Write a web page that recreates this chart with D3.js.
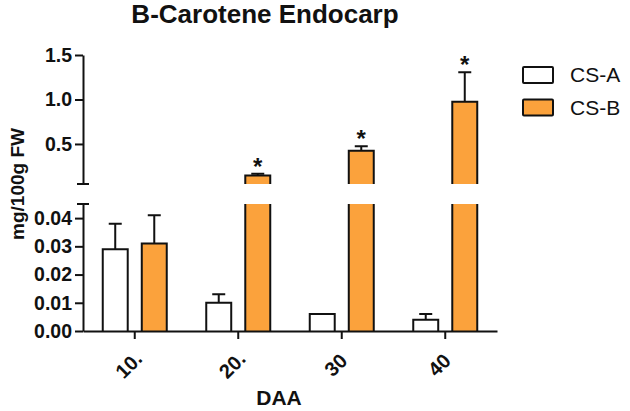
<!DOCTYPE html>
<html>
<head>
<meta charset="utf-8">
<script src="https://cdn.jsdelivr.net/npm/d3@7"></script>
<style>
  body { margin: 0; background: #fff; }
  svg text { font-family: "Liberation Sans", Arial, sans-serif; fill: #111; }
</style>
</head>
<body>
<div id="chart"></div>
<script>
// donnees
const groups = ["10.", "20.", "30", "40"];
const series = ["CS-A", "CS-B"];
const csA = [0.029, 0.010, 0.006, 0.004];
const csAErr = [0.009, 0.003, 0, 0.002];
const csB = [0.031, 0.145, 0.425, 0.975];
const csBErr = [0.010, 0.02, 0.05, 0.33];
const csBStar = [false, true, true, true];
const lowTicks = [0, 0.01, 0.02, 0.03, 0.04];
const highTicks = [0.5, 1.0, 1.5];

const W = 630, H = 411;
const orange = "#fba23c";
const axisX = 83;

const svg = d3.select("#chart").append("svg")
  .attr("width", W).attr("height", H);

// deux echelles y (axe coupe)
const yLow = d3.scaleLinear().domain([0, 0.045]).range([331, 204]);
const yHigh = d3.scaleLinear().domain([0.05, 1.5]).range([184, 55]);

const x = d3.scaleBand().domain(groups).range([axisX, 497]).padding(0);
const xs = d3.scaleBand().domain(series).range([-32, 32]).paddingInner(0.36);

const rows = [];
groups.forEach((g, i) => {
  rows.push({g, s: "CS-A", v: csA[i], e: csAErr[i], star: false});
  rows.push({g, s: "CS-B", v: csB[i], e: csBErr[i], star: csBStar[i]});
});

const bars = svg.append("g");
rows.forEach(d => {
  const x0 = x(d.g) + x.bandwidth() / 2 + xs(d.s);
  const w = xs.bandwidth();
  const fill = d.s === "CS-A" ? "#fff" : orange;
  const loMax = yLow.domain()[1];
  const hiMin = yHigh.domain()[0];
  const bottom = yLow(0);
  const top = yLow(Math.min(d.v, loMax));
  bars.append("rect").attr("x", x0).attr("y", top).attr("width", w)
    .attr("height", bottom - top).attr("fill", fill);
  const cut = d.v > loMax;
  bars.append("path")
    .attr("d", cut
      ? `M${x0},${bottom}V${top}M${x0 + w},${top}V${bottom}`
      : `M${x0},${bottom}V${top}H${x0 + w}V${bottom}`)
    .attr("fill", "none").attr("stroke", "#111").attr("stroke-width", 2);

  let yScale = yLow;
  if (d.v > hiMin) {
    yScale = yHigh;
    const t = yHigh(d.v), b = yHigh(hiMin);
    bars.append("rect").attr("x", x0).attr("y", t).attr("width", w)
      .attr("height", b - t).attr("fill", fill);
    bars.append("path")
      .attr("d", `M${x0},${b}V${t}H${x0 + w}V${b}`)
      .attr("fill", "none").attr("stroke", "#111").attr("stroke-width", 2);
  }
  const cx = x0 + w / 2;
  const yTop = yScale(d.v + d.e);
  if (d.e > 0) {
    bars.append("path")
      .attr("d", `M${cx},${yScale(d.v)}V${yTop}M${cx - 6.5},${yTop}H${cx + 6.5}`)
      .attr("fill", "none").attr("stroke", "#111").attr("stroke-width", 2);
  }
  if (d.star) {
    bars.append("text").attr("x", cx).attr("y", yTop + 1)
      .attr("text-anchor", "middle")
      .style("font-size", "24px").style("font-weight", "bold")
      .text("*");
  }
});

// axes y
function styleAxis(g) {
  g.selectAll("path, line").attr("stroke", "#111").attr("stroke-width", 2);
  g.selectAll("text").style("font-size", "19.5px").style("font-weight", "bold")
    .attr("fill", "#111");
}
svg.append("g").attr("transform", `translate(${axisX},0)`)
  .call(d3.axisLeft(yLow).tickValues(lowTicks).tickFormat(d3.format(".2f"))
    .tickSize(8).tickSizeOuter(0).tickPadding(3))
  .call(styleAxis);
svg.append("g").attr("transform", `translate(${axisX},0)`)
  .call(d3.axisLeft(yHigh).tickValues(highTicks).tickFormat(d3.format(".1f"))
    .tickSize(8).tickSizeOuter(0).tickPadding(3))
  .call(styleAxis);

// petits traits aux bouts de la coupure
[yHigh.range()[0], yLow.range()[1]].forEach(yy => {
  svg.append("line").attr("x1", axisX - 6).attr("x2", axisX + 6)
    .attr("y1", yy).attr("y2", yy)
    .attr("stroke", "#111").attr("stroke-width", 2);
});

// axe x
const gx = svg.append("g").attr("transform", `translate(0,${yLow(0)})`)
  .call(d3.axisBottom(x).tickSize(8).tickSizeOuter(0))
  .call(styleAxis);
gx.selectAll(".tick text").remove();
gx.selectAll(".tick").append("text")
  .attr("x", -6).attr("y", 34).attr("dy", "0.35em")
  .attr("text-anchor", "middle")
  .attr("transform", "rotate(-45, -6, 34)")
  .style("font-size", "20px").style("font-weight", "bold")
  .attr("fill", "#111")
  .text(d => d);

// titres
svg.append("text").attr("x", 265).attr("y", 23).attr("text-anchor", "middle")
  .style("font-size", "26px").style("font-weight", "bold")
  .text("B-Carotene Endocarp");
svg.append("text").attr("x", 279).attr("y", 405).attr("text-anchor", "middle")
  .style("font-size", "21px").style("font-weight", "bold")
  .text("DAA");
svg.append("text").attr("transform", "translate(24,184) rotate(-90)")
  .attr("text-anchor", "middle")
  .style("font-size", "19px").style("font-weight", "bold")
  .text("mg/100g FW");

// legende
const leg = svg.append("g").attr("transform", "translate(523,0)");
series.forEach((s, i) => {
  const yy = 67 + i * 32.5;
  leg.append("rect").attr("x", 0).attr("y", yy).attr("width", 30).attr("height", 16)
    .attr("fill", s === "CS-A" ? "#fff" : orange)
    .attr("stroke", "#111").attr("stroke-width", 2).attr("rx", 1);
  leg.append("text").attr("x", 47).attr("y", yy + 15)
    .style("font-size", "21px")
    .text(s);
});
</script>
</body>
</html>
